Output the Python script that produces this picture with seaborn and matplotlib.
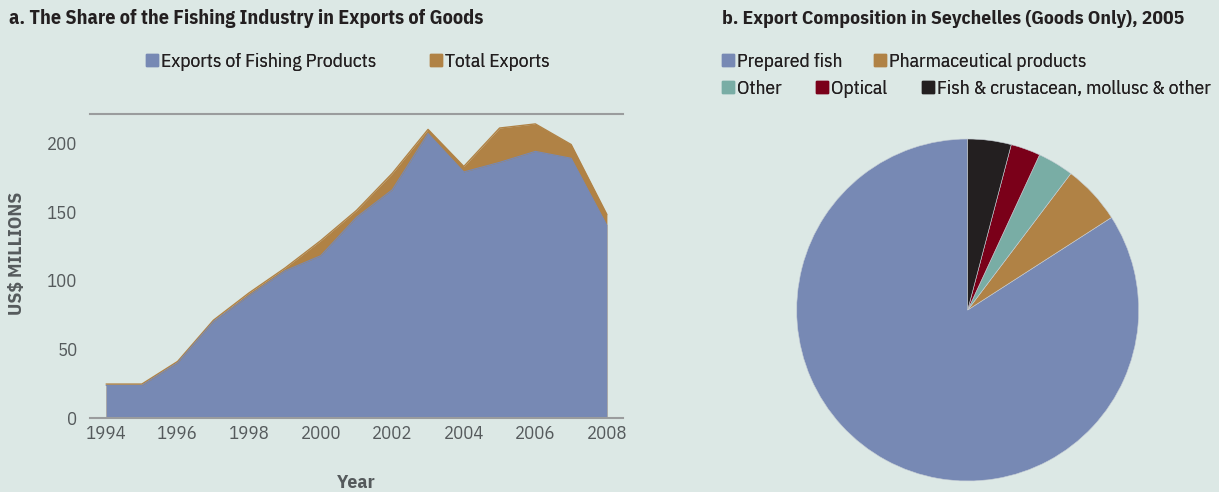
import matplotlib
matplotlib.use("Agg")
import matplotlib.pyplot as plt
from matplotlib.patches import Patch
import seaborn as sns
import pandas as pd

# ---- data ----
years = list(range(1994, 2009))
fishing_exports = [23.5, 23.5, 40, 70, 89, 107, 118, 146, 166, 207, 179, 186, 194, 189, 140]
total_exports = [24.5, 24.5, 41, 71, 91, 109, 129, 151, 178, 210, 183, 211, 214, 199, 148]

pie_labels = ["Prepared fish", "Pharmaceutical products", "Other", "Optical",
              "Fish & crustacean, mollusc & other"]
pie_shares = [84.1, 5.6, 3.4, 2.8, 4.1]

# ---- style ----
BG = "#DCE8E5"
BLUE = "#7789B4"
BROWN = "#B08245"
TEAL = "#79ADA5"
RED = "#7A0019"
BLACK = "#231F20"
TXT = "#231F20"
TICK = "#555A5C"
pie_colors = [BLUE, BROWN, TEAL, RED, BLACK]

sns.set_style("white", {"axes.facecolor": BG, "figure.facecolor": BG})
plt.rcParams["font.family"] = ["IBM Plex Sans Condensed", "DejaVu Sans"]

fig = plt.figure(figsize=(12.19, 4.92), dpi=100)
fig.patch.set_facecolor(BG)

# ---- left panel: area chart, fishing exports drawn over total exports ----
ax = fig.add_axes([90 / 1219, 1 - 417.7 / 492, 533 / 1219, (417.7 - 114.3) / 492])
ax.set_facecolor(BG)
df = pd.DataFrame({"Year": years, "Fishing": fishing_exports, "Total": total_exports})

ax.fill_between(df["Year"], 0, df["Total"], color=BROWN, linewidth=0)
sns.lineplot(data=df, x="Year", y="Total", ax=ax, color=BROWN, linewidth=1)
ax.fill_between(df["Year"], 0, df["Fishing"], color=BLUE, linewidth=0)
sns.lineplot(data=df, x="Year", y="Fishing", ax=ax, color=BLUE, linewidth=0.8)

ax.set_xlim(1993.55, 2008.45)
ax.set_ylim(0, 221)
ax.set_xticks(range(1994, 2009, 2))
ax.set_yticks(range(0, 201, 50))
ax.tick_params(axis="both", length=0, labelsize=13.5, colors=TICK)
ax.tick_params(axis="x", pad=5)
ax.tick_params(axis="y", pad=9)
for s in ["left", "right"]:
    ax.spines[s].set_visible(False)
for s in ["top", "bottom"]:
    ax.spines[s].set_visible(True)
    ax.spines[s].set_color("#9A9C9D")
    ax.spines[s].set_linewidth(1.5)
ax.set_xlabel("Year", fontsize=14, fontweight="bold", color=TICK, labelpad=22.5)
ax.set_ylabel("US$ MILLIONS", fontsize=14, fontweight="bold", color=TICK)
ax.yaxis.set_label_coords(-0.12, 0.54)

fig.text(9 / 1219, 1 - 19 / 492, "a. The Share of the Fishing Industry in Exports of Goods",
         fontsize=14.5, fontweight="bold", color=TXT, va="center", ha="left")

leg_a = fig.legend(handles=[Patch(color=BLUE, label="Exports of Fishing Products"),
                            Patch(color=BROWN, label="Total Exports")],
                   loc="center left", bbox_to_anchor=(146 / 1219, 1 - 62 / 492),
                   ncol=2, frameon=False, fontsize=14, labelcolor=TXT,
                   handlelength=0.6, handleheight=0.6, handletextpad=0.15,
                   columnspacing=2.8, borderpad=0, borderaxespad=0)

# ---- right panel: pie ----
r = 171
cx, cy = 967.7, 310
axp = fig.add_axes([(cx - r) / 1219, 1 - (cy + r) / 492, 2 * r / 1219, 2 * r / 492])
axp.pie(pie_shares, colors=pie_colors, startangle=90, counterclock=True,
        wedgeprops={"linewidth": 0.4, "edgecolor": "#C8CFD6"})
axp.set_aspect("auto")
axp.set_xlim(-1, 1)
axp.set_ylim(-1, 1)

fig.text(722 / 1219, 1 - 19 / 492, "b. Export Composition in Seychelles (Goods Only), 2005",
         fontsize=14, fontweight="bold", color=TXT, va="center", ha="left")

handles = [Patch(color=c, label=l) for c, l in zip(pie_colors, pie_labels)]
leg_b1 = fig.legend(handles=handles[:2], loc="center left",
                    bbox_to_anchor=(722 / 1219, 1 - 62 / 492), ncol=2, frameon=False,
                    fontsize=14, labelcolor=TXT, handlelength=0.6, handleheight=0.6,
                    handletextpad=0.15, columnspacing=1.65, borderpad=0, borderaxespad=0)
fig.add_artist(leg_b1)
leg_b2 = fig.legend(handles=handles[2:], loc="center left",
                    bbox_to_anchor=(722 / 1219, 1 - 89 / 492), ncol=3, frameon=False,
                    fontsize=14, labelcolor=TXT, handlelength=0.6, handleheight=0.6,
                    handletextpad=0.15, columnspacing=1.8, borderpad=0, borderaxespad=0)
fig.add_artist(leg_b2)
fig.add_artist(leg_a)

fig.savefig("out.png", dpi=100, facecolor=BG)
